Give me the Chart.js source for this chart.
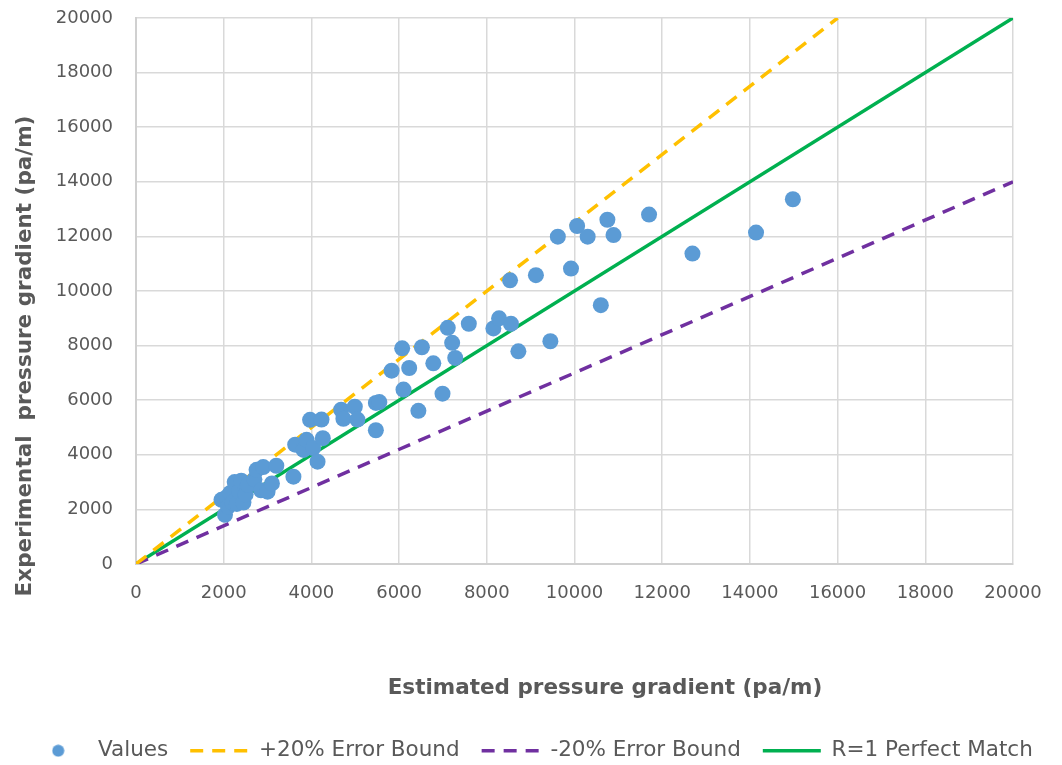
<!DOCTYPE html>
<html>
<head>
<meta charset="utf-8">
<script src="https://cdn.jsdelivr.net/npm/chart.js@4.4.1/dist/chart.umd.min.js"></script>
<style>
  html, body { margin: 0; padding: 0; background: #ffffff; }
  canvas { display: block; }
</style>
</head>
<body>
<canvas id="c" width="1062" height="765"></canvas>
<script>
// ---------- data ----------
const estimatedX = [1950,2030,2070,2100,2150,2200,2250,2300,2350,2400,2450,2500,2550,2700,2750,2850,2900,3000,3100,3200,
  3590,3630,3820,3890,3970,4040,4140,4230,4260,
  4680,4730,4990,5050,5470,5470,5550,
  5830,6070,6100,6230,6440,6520,6780,6990,7110,7210,7280,7590,8150,8280,8550,8530,8720,9120,9450,9620,9920,10060,10300,10600,10750,10890,11700,12690,14140,14980];
const experimentalY = [2350,1800,2450,2100,2600,2250,3000,2200,2650,3050,2250,2550,2900,3100,3450,2700,3550,2650,2950,3600,
  3200,4370,4180,4550,5280,4250,3750,5290,4610,
  5650,5320,5760,5290,4900,5900,5930,
  7080,7900,6390,7180,5610,7940,7350,6240,8650,8100,7550,8800,8630,9000,8800,10390,7790,10580,8160,11990,10820,12380,11990,9480,12610,12050,12800,11370,12140,13360];

const upperX = [0, 16000];
const upperY = [0, 20000];
const lowerX = [0, 20000];
const lowerY = [0, 14000];
const perfectX = [0, 20000];
const perfectY = [0, 20000];

const seriesLabels = ['Values', '+20% Error Bound', '-20% Error Bound', 'R=1 Perfect Match'];
const xTitle = 'Estimated pressure gradient (pa/m)';
const yTitle = 'Experimental  pressure gradient (pa/m)';
const axisMin = 0, axisMax = 20000, axisStep = 2000;

const zip = (xs, ys) => xs.map((x, i) => ({ x: x, y: ys[i] }));

// ---------- styles ----------
const FONT = '"DejaVu Sans", "Liberation Sans", sans-serif';
const TEXT = '#595959';
const BLUE = '#5B9BD5', YELLOW = '#FFC000', PURPLE = '#7030A0', GREEN = '#00B050';
const DASH = [13, 9];

// legend marker for the scatter series
const dot = document.createElement('canvas');
dot.width = 13; dot.height = 13;
(function () {
  const g = dot.getContext('2d');
  g.fillStyle = BLUE;
  g.beginPath(); g.arc(6.5, 6.5, 6, 0, Math.PI * 2); g.fill();
})();

const axisTitles = {
  id: 'axisTitles',
  afterDraw(chart) {
    const ctx = chart.ctx;
    ctx.save();
    ctx.font = 'bold 21.5px ' + FONT;
    ctx.fillStyle = TEXT;
    ctx.textAlign = 'center';
    ctx.textBaseline = 'middle';
    ctx.fillText(xTitle, 605, 688);
    ctx.translate(25, 356);
    ctx.rotate(-Math.PI / 2);
    ctx.fillText(yTitle, 0, 0);
    ctx.restore();
  }
};

const gridOpts = { color: '#d9d9d9', lineWidth: 1.5, drawTicks: false };
const borderOpts = { color: '#d0d0d0', width: 2 };
const plainNumber = v => String(v);

new Chart(document.getElementById('c'), {
  type: 'scatter',
  data: {
    datasets: [
      {
        label: seriesLabels[0],
        data: zip(estimatedX, experimentalY),
        backgroundColor: BLUE,
        borderColor: BLUE,
        pointRadius: 8,
        pointBorderWidth: 0,
        showLine: false
      },
      {
        label: seriesLabels[1],
        data: zip(upperX, upperY),
        showLine: true,
        borderColor: YELLOW,
        backgroundColor: YELLOW,
        borderWidth: 3.5,
        borderDash: DASH,
        pointRadius: 0
      },
      {
        label: seriesLabels[2],
        data: zip(lowerX, lowerY),
        showLine: true,
        borderColor: PURPLE,
        backgroundColor: PURPLE,
        borderWidth: 3.5,
        borderDash: DASH,
        pointRadius: 0
      },
      {
        label: seriesLabels[3],
        data: zip(perfectX, perfectY),
        showLine: true,
        borderColor: GREEN,
        backgroundColor: GREEN,
        borderWidth: 3.5,
        pointRadius: 0
      }
    ]
  },
  options: {
    responsive: false,
    animation: false,
    events: [],
    layout: { padding: { left: 0, right: 0, top: 18, bottom: 0 } },
    scales: {
      x: {
        type: 'linear',
        min: axisMin, max: axisMax,
        grid: gridOpts,
        border: borderOpts,
        ticks: { stepSize: axisStep, padding: 19, color: TEXT, font: { family: FONT, size: 18 }, maxRotation: 0, callback: plainNumber },
        afterFit(scale) { scale.height = 154; scale.paddingRight = 49; }
      },
      y: {
        type: 'linear',
        min: axisMin, max: axisMax,
        grid: gridOpts,
        border: borderOpts,
        ticks: { stepSize: axisStep, padding: 23, color: TEXT, font: { family: FONT, size: 18 }, callback: plainNumber },
        afterFit(scale) { scale.width = 136; scale.paddingTop = 0; scale.paddingBottom = 0; }
      }
    },
    plugins: {
      tooltip: { enabled: false },
      legend: {
        position: 'bottom',
        maxHeight: 47,
        labels: {
          color: TEXT,
          font: { family: FONT, size: 21.5 },
          usePointStyle: true,
          pointStyleWidth: 58,
          boxHeight: 8,
          padding: 22,
          generateLabels(chart) {
            return chart.data.datasets.map((ds, i) => ({
              text: ds.label,
              fillStyle: ds.backgroundColor,
              strokeStyle: ds.borderColor,
              lineWidth: i === 0 ? 0 : 3.5,
              lineDash: ds.borderDash || [],
              pointStyle: i === 0 ? dot : 'line',
              fontColor: TEXT,
              hidden: false,
              datasetIndex: i
            }));
          }
        }
      }
    }
  },
  plugins: [axisTitles]
});
</script>
</body>
</html>
